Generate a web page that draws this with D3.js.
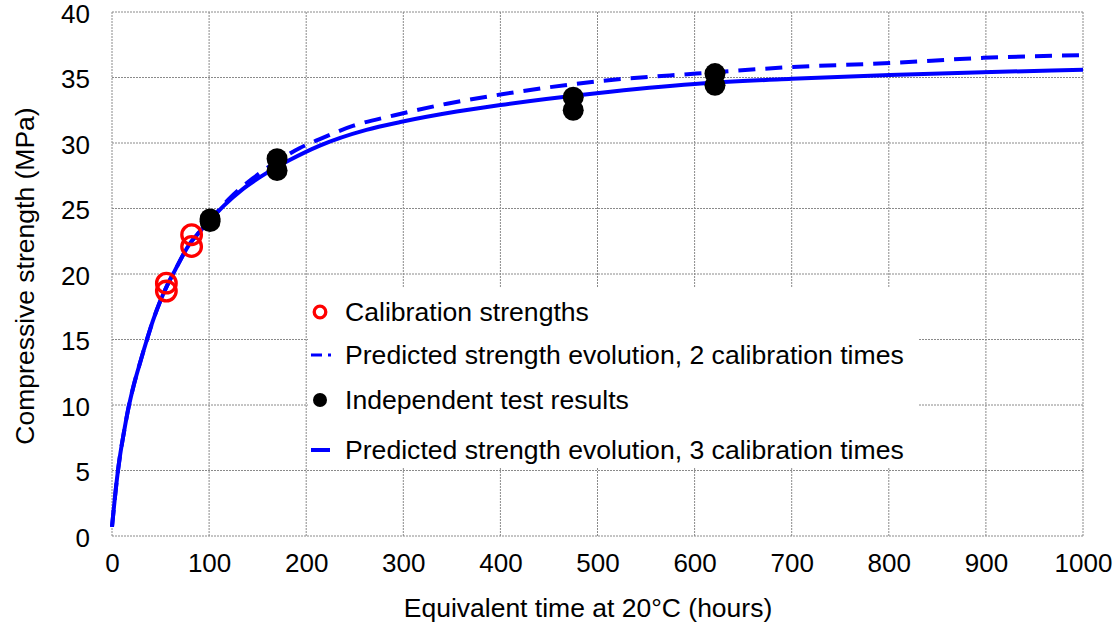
<!DOCTYPE html>
<html>
<head>
<meta charset="utf-8">
<script src="https://cdn.jsdelivr.net/npm/d3@7/dist/d3.min.js"></script>
<style>
  body { margin: 0; background: #fff; }
  svg { display: block; font-family: Arial, "Liberation Sans", sans-serif; }
</style>
</head>
<body>
<svg id="chart" width="1118" height="629"></svg>
<script>
// ---- data ----
const xTicks = [0, 100, 200, 300, 400, 500, 600, 700, 800, 900, 1000];
const yTicks = [0, 5, 10, 15, 20, 25, 30, 35, 40];

const solidTimes    = [0, 2, 5, 8, 12, 17, 22, 28, 36, 42, 49, 56, 65, 80, 90, 101, 115, 135, 159, 183, 214, 262, 297, 355, 400, 499, 600, 700, 801, 897, 1000];
const solidStrength = [0.7, 2.2, 4.3, 6.0, 7.8, 9.8, 11.4, 13.0, 15.0, 16.4, 17.8, 19.0, 20.3, 22.3, 23.2, 24.1, 25.2, 26.5, 27.7, 28.7, 29.8, 31.0, 31.6, 32.4, 32.9, 33.8, 34.5, 34.9, 35.2, 35.4, 35.6];

const dashedTimes    = [0, 2, 5, 8, 12, 17, 22, 28, 36, 42, 49, 56, 65, 80, 90, 101, 120, 145, 170, 193, 214, 248, 290, 345, 400, 499, 602, 701, 801, 897, 1000];
const dashedStrength = [0.7, 2.2, 4.3, 6.0, 7.8, 9.8, 11.4, 13.0, 15.0, 16.4, 17.8, 19.0, 20.3, 22.3, 23.2, 24.1, 25.7, 27.3, 28.6, 29.6, 30.3, 31.3, 32.1, 33.0, 33.7, 34.7, 35.3, 35.8, 36.1, 36.5, 36.7];

const calibTimes    = [56, 56, 82, 82];
const calibStrength = [19.3, 18.7, 23.0, 22.1];

const testTimes    = [101, 101, 170, 170, 475, 475, 621, 621];
const testStrength = [24.2, 24.0, 28.8, 27.9, 33.5, 32.5, 35.3, 34.4];

const legendLabels = [
  "Calibration strengths",
  "Predicted strength evolution, 2 calibration times",
  "Independent test results",
  "Predicted strength evolution, 3 calibration times"
];

const xTitle = "Equivalent time at 20°C (hours)";
const yTitle = "Compressive strength (MPa)";

// ---- layout ----
const svg = d3.select("#chart");
const pLeft = 112, pRight = 1083, pTop = 12, pBottom = 536;
const x = d3.scaleLinear().domain([0, 1000]).range([pLeft, pRight]);
const y = d3.scaleLinear().domain([0, 40]).range([pBottom, pTop]);
const blue = "#0000ff";
const gridColor = "#8a8a8a";
const fontFam = "Arial, 'Liberation Sans', sans-serif";

// grid
const grid = svg.append("g");
grid.selectAll("line.v").data(xTicks).join("line").attr("class", "v")
  .attr("x1", d => x(d)).attr("x2", d => x(d))
  .attr("y1", pTop).attr("y2", pBottom)
  .attr("stroke", gridColor).attr("stroke-width", 1).attr("stroke-dasharray", "2,1");
grid.selectAll("line.h").data(yTicks).join("line").attr("class", "h")
  .attr("x1", pLeft).attr("x2", pRight)
  .attr("y1", d => y(d)).attr("y2", d => y(d))
  .attr("stroke", gridColor).attr("stroke-width", 1).attr("stroke-dasharray", "2,1");

// axes (labels only)
const xAxis = d3.axisBottom(x).tickValues(xTicks).tickFormat(d3.format("d")).tickSize(0).tickPadding(18);
const gx = svg.append("g").attr("transform", `translate(0,${pBottom})`).call(xAxis);
gx.select(".domain").remove();
gx.selectAll("text").attr("font-size", 26).attr("fill", "#000").attr("font-family", fontFam);

const yAxis = d3.axisLeft(y).tickValues(yTicks).tickFormat(d3.format("d")).tickSize(0).tickPadding(22);
const gy = svg.append("g").attr("transform", `translate(${pLeft},0)`).call(yAxis);
gy.select(".domain").remove();
gy.selectAll("text").attr("font-size", 26).attr("fill", "#000").attr("font-family", fontFam)
  .attr("dy", "0.4em");

// legend background (covers grid)
svg.append("rect")
  .attr("x", 308).attr("y", 287).attr("width", 610).attr("height", 181)
  .attr("fill", "#fff");

// curves
const line = d3.line().x(d => x(d[0])).y(d => y(d[1])).curve(d3.curveMonotoneX);
const solidData = solidTimes.map((t, i) => [t, solidStrength[i]]);
const dashedData = dashedTimes.map((t, i) => [t, dashedStrength[i]]);

svg.append("path").datum(dashedData).attr("d", line)
  .attr("fill", "none").attr("stroke", blue).attr("stroke-width", 4)
  .attr("stroke-dasharray", "17,10");
svg.append("path").datum(solidData).attr("d", line)
  .attr("fill", "none").attr("stroke", blue).attr("stroke-width", 4);

// points
svg.append("g").selectAll("circle").data(testTimes.map((t, i) => [t, testStrength[i]])).join("circle")
  .attr("cx", d => x(d[0])).attr("cy", d => y(d[1])).attr("r", 10.5).attr("fill", "#000");
svg.append("g").selectAll("circle").data(calibTimes.map((t, i) => [t, calibStrength[i]])).join("circle")
  .attr("cx", d => x(d[0])).attr("cy", d => y(d[1])).attr("r", 9.8)
  .attr("fill", "none").attr("stroke", "#ff0000").attr("stroke-width", 3.3);

// legend
const legRows = [312, 355, 400, 450];
const lg = svg.append("g");
lg.append("circle").attr("cx", 320).attr("cy", legRows[0]).attr("r", 5.8)
  .attr("fill", "none").attr("stroke", "#ff0000").attr("stroke-width", 3.3);
lg.append("line").attr("x1", 311).attr("x2", 331).attr("y1", legRows[1]).attr("y2", legRows[1])
  .attr("stroke", blue).attr("stroke-width", 3).attr("stroke-dasharray", "11,6");
lg.append("circle").attr("cx", 320).attr("cy", legRows[2]).attr("r", 7).attr("fill", "#000");
lg.append("line").attr("x1", 311).attr("x2", 330).attr("y1", legRows[3]).attr("y2", legRows[3])
  .attr("stroke", blue).attr("stroke-width", 4);
lg.selectAll("text").data(legendLabels).join("text")
  .attr("x", 345).attr("y", (d, i) => legRows[i]).attr("dy", "0.35em")
  .attr("font-size", 26.6).attr("fill", "#000").text(d => d);

// titles
svg.append("text").attr("x", 588).attr("y", 617)
  .attr("text-anchor", "middle").attr("font-size", 26.5).attr("fill", "#000").text(xTitle);
svg.append("text").attr("transform", `translate(34,${(pTop + pBottom) / 2 + 2}) rotate(-90)`)
  .attr("text-anchor", "middle").attr("font-size", 26.5).attr("fill", "#000").text(yTitle);
</script>
</body>
</html>
